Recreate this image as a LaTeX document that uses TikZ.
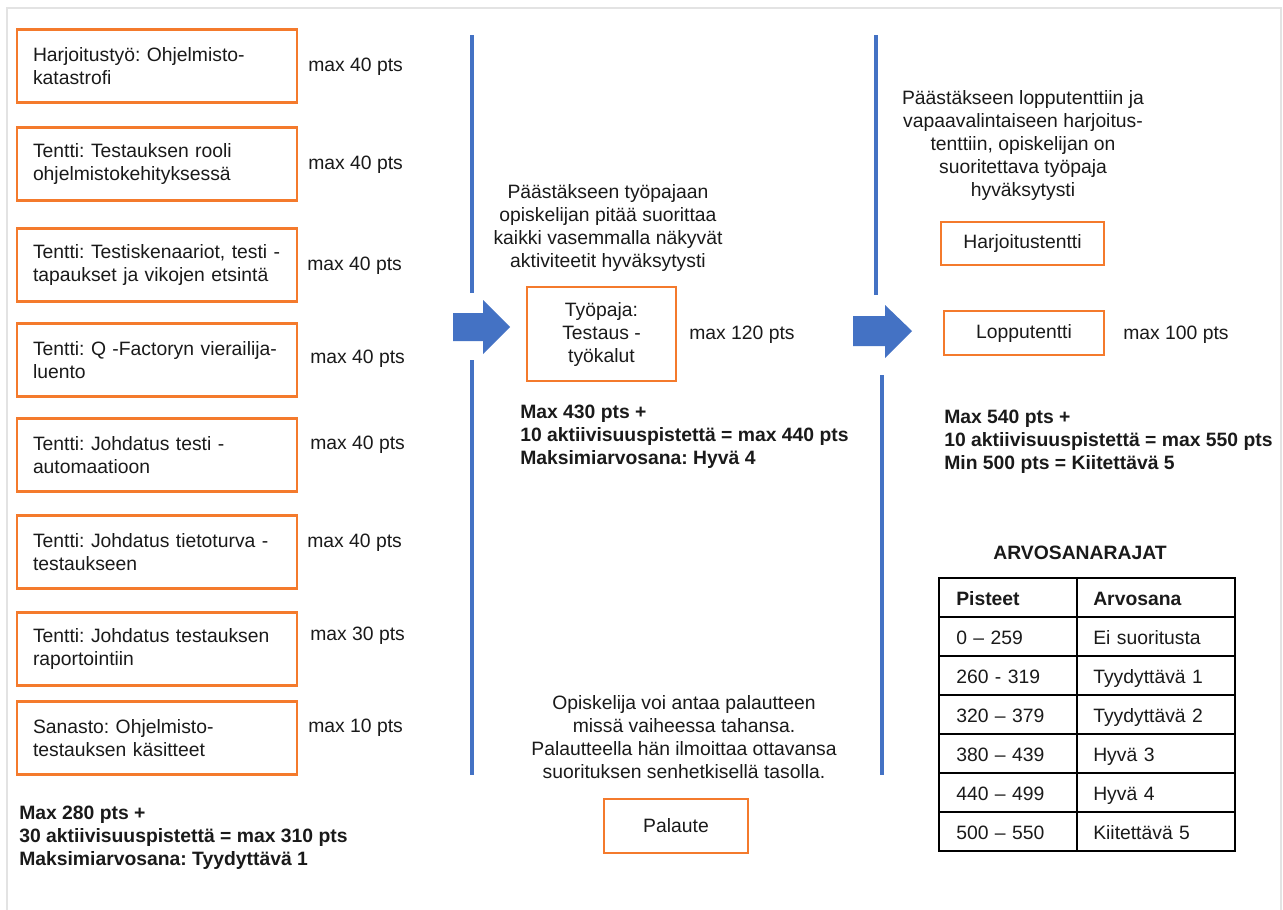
\documentclass[tikz,border=0pt]{standalone}
\usepackage{fontspec}
\setmainfont{Liberation Sans}
\usetikzlibrary{matrix}
\frenchspacing
\definecolor{boxorange}{HTML}{F47A2C}
\definecolor{lineblue}{HTML}{4472C4}
\definecolor{framegray}{HTML}{E3E3E3}
\definecolor{txt}{HTML}{1A1A1A}
\tikzset{
  nfont/.style={font=\fontsize{14.5}{17.25}\selectfont},
  bfont/.style={font=\fontsize{14.5}{17.25}\selectfont\bfseries},
  base/.style={nfont, text=txt},
  leftbox/.style={base, draw=boxorange, line width=1.8pt, text width=186pt, inner xsep=12pt, align=left, minimum height=54.75pt},
  obox/.style={base, draw=boxorange, line width=1.8pt, align=center, inner sep=0pt},
  ptslabel/.style={base, anchor=west, inner sep=0pt},
  boldblock/.style={base, bfont, align=left, anchor=west, inner sep=0pt},
  noteblock/.style={base, align=center, inner sep=0pt},
  vline/.style={draw=lineblue, line width=3pt},
  blockarrow/.style={fill=lineblue, draw=none},
}
\begin{document}
\begin{tikzpicture}[x=0.75pt, y=-0.75pt]
\useasboundingbox (0,0) rectangle (1283,910);
\fill[white] (0,0) rectangle (1283,910);
% frame
\draw[framegray, line width=1.5pt] (7,910) -- (7,8) -- (1281,8) -- (1281,910);

% left column boxes
\node[leftbox] (b1) at (157,66) {\mbox{Harjoitustyö: Ohjelmisto-}\\katastrofi};
\node[leftbox] (b2) at (157,164) {\mbox{Tentti: Testauksen rooli}\\ohjelmistokehityksessä};
\node[leftbox] (b3) at (157,265) {\mbox{Tentti: Testiskenaariot, testi -}\\\mbox{tapaukset ja vikojen etsintä}};
\node[leftbox] (b4) at (157,360) {\mbox{Tentti: Q -Factoryn vierailija-}\\luento};
\node[leftbox] (b5) at (157,455) {\mbox{Tentti: Johdatus testi -}\\automaatioon};
\node[leftbox] (b6) at (157,552) {\mbox{Tentti: Johdatus tietoturva -}\\testaukseen};
\node[leftbox] (b7) at (157,649) {\mbox{Tentti: Johdatus testauksen}\\raportointiin};
\node[leftbox] (b8) at (157,738) {\mbox{Sanasto: Ohjelmisto-}\\\mbox{testauksen käsitteet}};

\node[ptslabel] (p1) at (308,67) {max 40 pts};
\node[ptslabel] (p2) at (308,165) {max 40 pts};
\node[ptslabel] (p3) at (307,266) {max 40 pts};
\node[ptslabel] (p4) at (310,359) {max 40 pts};
\node[ptslabel] (p5) at (310,445) {max 40 pts};
\node[ptslabel] (p6) at (307,543) {max 40 pts};
\node[ptslabel] (p7) at (310,636) {max 30 pts};
\node[ptslabel] (p8) at (308,728) {max 10 pts};

\node[boldblock] (sumleft) at (19,838) {Max 280 pts +\\30 aktiivisuuspistettä = max 310 pts\\Maksimiarvosana: Tyydyttävä 1};

% separators
\draw[vline] (472,35) -- (472,293);
\draw[vline] (472,360) -- (472,775);
\draw[vline] (876,35) -- (876,295);
\draw[vline] (882,375) -- (882,775);

% block arrows
\fill[blockarrow] (453,313) -- (483,313) -- (483,300) -- (510,327) -- (483,354) -- (483,341) -- (453,341) -- cycle;
\fill[blockarrow] (853,316) -- (885,316) -- (885,305) -- (912,331) -- (885,358) -- (885,346) -- (853,346) -- cycle;

% middle column
\node[noteblock] (midnote) at (608,228) {Päästäkseen työpajaan\\opiskelijan pitää suorittaa\\kaikki vasemmalla näkyvät\\aktiviteetit hyväksytysti};
\node[obox, minimum width=111.75pt, minimum height=70.5pt] (workshop) at (601.5,334) {Työpaja:\\Testaus -\\työkalut};
\node[ptslabel] (pw) at (689,335) {max 120 pts};
\node[boldblock] (summid) at (520,437) {Max 430 pts +\\10 aktiivisuuspistettä = max 440 pts\\Maksimiarvosana: Hyvä 4};

\node[noteblock] (feedbacknote) at (684,737) {Opiskelija voi antaa palautteen\\missä vaiheessa tahansa.\\Palautteella hän ilmoittaa ottavansa\\suorituksen senhetkisellä tasolla.};
\node[obox, minimum width=108pt, minimum height=40.5pt] (feedback) at (676,826) {Palaute};

% right column
\node[noteblock] (rightnote) at (1023,145) {Päästäkseen lopputenttiin ja\\vapaavalintaiseen harjoitus-\\tenttiin, opiskelijan on\\suoritettava työpaja\\hyväksytysti};
\node[obox, minimum width=122.25pt, minimum height=32.25pt] (practice) at (1022.5,243.5) {Harjoitustentti};
\node[obox, minimum width=120pt, minimum height=33pt] (final) at (1024,333) {Lopputentti};
\node[ptslabel] (pf) at (1123,335) {max 100 pts};
\node[boldblock] (sumright) at (944,442) {Max 540 pts +\\10 aktiivisuuspistettä = max 550 pts\\Min 500 pts = Kiitettävä 5};

\node[base, bfont, inner sep=0pt] (tabletitle) at (1080,553) {ARVOSANARAJAT};

\matrix (grades) at (938,577) [matrix of nodes, anchor=north west, inner sep=0pt,
  column sep=-1.5pt, row sep=-1.5pt,
  nodes={base, draw=black, line width=1.5pt, minimum height=29.25pt, text height=13pt, text depth=1.5pt, inner ysep=2pt, anchor=center, align=left},
  column 1/.style={nodes={text width=78pt, inner xsep=12.75pt}},
  column 2/.style={nodes={text width=94.5pt, inner xsep=12pt}}] {
  |[bfont]| Pisteet & |[bfont]| Arvosana \\
  0 – 259 & Ei suoritusta \\
  260 - 319 & Tyydyttävä 1 \\
  320 – 379 & Tyydyttävä 2 \\
  380 – 439 & Hyvä 3 \\
  440 – 499 & Hyvä 4 \\
  500 – 550 & Kiitettävä 5 \\
};
\end{tikzpicture}
\end{document}
